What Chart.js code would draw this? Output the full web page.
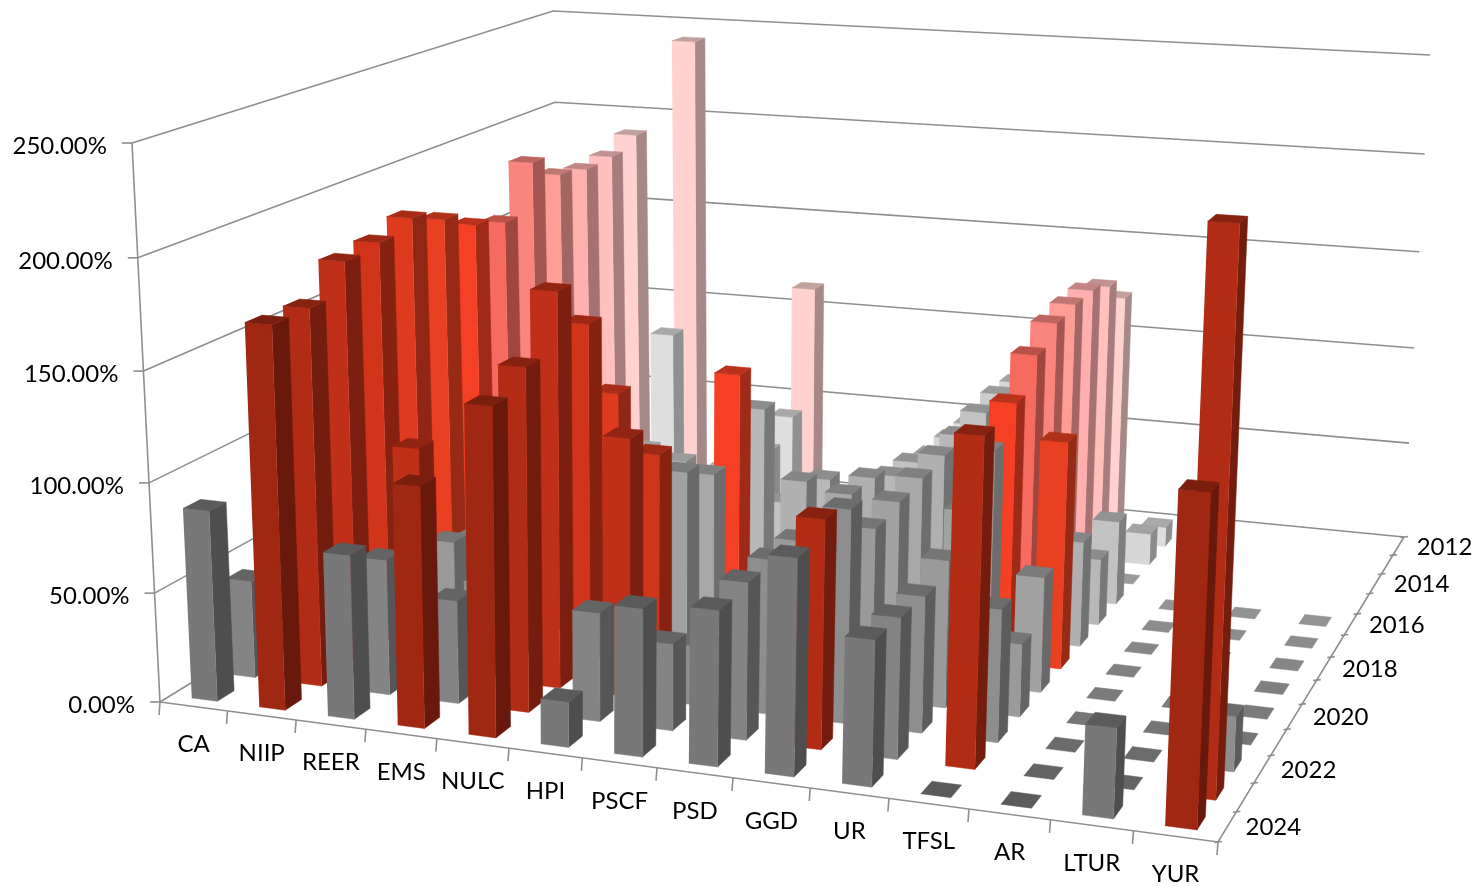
<!DOCTYPE html>
<html lang="en">
<head>
<meta charset="UTF-8">
<title>Scoreboard indicators 2012-2024</title>
<script src="https://cdn.jsdelivr.net/npm/chart.js"></script>
<style>
  body { margin: 0; background: #fff; }
  canvas { display: block; }
</style>
</head>
<body>
<canvas id="chart" width="1472" height="886"></canvas>
<script>
const categories = ['CA', 'NIIP', 'REER', 'EMS', 'NULC', 'HPI', 'PSCF', 'PSD', 'GGD', 'UR', 'TFSL', 'AR', 'LTUR', 'YUR'];
const years = [2012, 2013, 2014, 2015, 2016, 2017, 2018, 2019, 2020, 2021, 2022, 2023, 2024];
const yearTicks = ['2012', '2014', '2016', '2018', '2020', '2022', '2024'];
const valueTicks = [0, 50, 100, 150, 200, 250];

// one array per year, same order as categories, null = no bar at all
const v2012 = [55, 189, 241, 40, 112, 8, 25, 50, 80, 120, null, null, null, null];
const v2013 = [55, 183, 89, 20, 50, 10, 25, 55, 85, 133, 10, null, null, null];
const v2014 = [50, 182, 35, 25, 40, 15, 30, 56, 88, 138, 16, null, null, null];
const v2015 = [50, 185, 45, 40, 45, 30, 30, 56, 90, 138, 0, null, null, null];
const v2016 = [50, 197, 45, 40, 45, 34, 40, 61, 89, 136, 41, 0, 0, 0];
const v2017 = [50, 173, 45, 40, 50, 90, 58, 63, 86, 128, 32, 0, 0, 0];
const v2018 = [55, 178, 45, 45, 60, 115, 66, 71, 85, 113, 50, 0, 0, 0];
const v2019 = [55, 187, 45, 45, 80, 75, 10, 72, 83, 99, 106, 0, 0, 0];
const v2020 = [60, 194, 45, 45, 119, 85, 10, 66, 81, 80, 53, 0, 0, 0];
const v2021 = [60, 189, 51, 45, 159, 102, 15, 69, 78, 67, 33, 0, 0, 0];
const v2022 = [60, 187, 104, 45, 181, 118, 27, 70, 96, 61, 59, 0, 0, 24];
const v2023 = [45, 173, 62, 47, 155, 49, 39, 70, 101, 62, 143, 0, 0, 238];
const v2024 = [87, 173, 74, 108, 146, 20, 65, 68, 94, 63, 0, 0, 38, 138];
const series = [v2012, v2013, v2014, v2015, v2016, v2017, v2018, v2019, v2020, v2021, v2022, v2023, v2024];

// bar colours by year, red above the 100% threshold
const reds = ['#ffd2cf', '#ffc0be', '#ffb0ae', '#fc9d96', '#fa857e', '#f56b60', '#f54025', '#e84020', '#dd3a1e', '#d0351a', '#c03018', '#b22c15', '#a02712'];
const grays = ['#e2e2e2', '#dedede', '#d6d6d6', '#cccccc', '#c2c2c2', '#b8b8b8', '#b0b0b0', '#a8a8a8', '#a2a2a2', '#9a9a9a', '#8e8e8e', '#848484', '#787878'];
const threshold = 100;
const barShare = 0.38;
const depthShare = 0.44;
const maxValue = 250;
const gridColor = '#8e8e8e';

// the box of the 3D chart as seen on screen: front-left, front-right, back-right, back-left
const floorBox = [[160, 702], [1218, 842], [1404, 537], [563, 455]];
const roofBox = [[132, 143], [1244, 215], [1430, 55], [553, 11]];
const heightBend = 0.034;

// unit square to quad, Heckbert's formula
function homography(q) {
  const [[x0, y0], [x1, y1], [x2, y2], [x3, y3]] = q;
  const dx1 = x1 - x2, dx2 = x3 - x2, sx = x0 - x1 + x2 - x3;
  const dy1 = y1 - y2, dy2 = y3 - y2, sy = y0 - y1 + y2 - y3;
  const den = dx1 * dy2 - dx2 * dy1;
  const g = (sx * dy2 - dx2 * sy) / den;
  const h = (dx1 * sy - sx * dy1) / den;
  const a = x1 - x0 + g * x1, b = x3 - x0 + h * x3;
  const d = y1 - y0 + g * y1, e = y3 - y0 + h * y3;
  return (u, v) => {
    const k = g * u + h * v + 1;
    return [(a * u + b * v + x0) / k, (d * u + e * v + y0) / k];
  };
}
const floorMap = homography(floorBox);
const roofMap = homography(roofBox);

// category position, row position (0 = front), value
function project(c, r, value) {
  const u = c / categories.length, v = r / years.length, s = value / maxValue;
  const t = s / (1 + heightBend * (1 - s));
  const p = floorMap(u, v), q = roofMap(u, v);
  return { x: p[0] + (q[0] - p[0]) * t, y: p[1] + (q[1] - p[1]) * t };
}

function shade(hex, k) {
  const n = parseInt(hex.slice(1), 16);
  const ch = s => Math.round(((n >> s) & 255) * k);
  return `rgb(${ch(16)},${ch(8)},${ch(0)})`;
}

// painted in this order, reversed at the end because Chart.js draws the first dataset last
const painted = [];

function addLine(points, width) {
  painted.push({ data: points, showLine: true, fill: false, borderColor: gridColor, borderWidth: width || 1.6, pointRadius: 0, tension: 0 });
}
function addFace(points, color) {
  painted.push({ data: points, showLine: true, fill: 'shape', backgroundColor: color, borderColor: color, borderWidth: 0.5, pointRadius: 0, tension: 0 });
}

const nc = categories.length, nr = years.length;

valueTicks.forEach(t => {
  addLine([project(0, 0, t), project(0, nr, t), project(nc, nr, t)]);
  const p = project(0, 0, t);
  addLine([p, { x: p.x - 10, y: p.y }]);
});
addLine([project(0, 0, 0), project(0, 0, maxValue)]);
addLine([project(0, 0, 0), project(nc, 0, 0), project(nc, nr, 0)]);
for (let c = 0; c <= nc; c++) {
  const p = project(c, 0, 0);
  addLine([p, { x: p.x - 1, y: p.y + 13 }]);
}
for (let r = 0; r <= nr; r++) {
  const p = project(nc, r, 0);
  addLine([{ x: p.x - 3.5, y: p.y + 0.5 }, { x: p.x + 4, y: p.y - 0.5 }]);
}

// back row first, left to right inside a row
series.forEach((values, i) => {
  const r = nr - 1 - i;
  values.forEach((val, c) => {
    if (val === null) return;
    const base = val > threshold ? reds[i] : grays[i];
    const c0 = c + 0.5 - barShare / 2, c1 = c + 0.5 + barShare / 2;
    const r0 = r + 0.5 - depthShare / 2, r1 = r + 0.5 + depthShare / 2;
    if (val > 0) {
      addFace([project(c1, r0, 0), project(c1, r1, 0), project(c1, r1, val), project(c1, r0, val)], shade(base, 0.65));
      addFace([project(c0, r0, 0), project(c1, r0, 0), project(c1, r0, val), project(c0, r0, val)], base);
    }
    addFace([project(c0, r0, val), project(c1, r0, val), project(c1, r1, val), project(c0, r1, val)], shade(base, 0.76));
  });
});

const textPlugin = {
  id: 'boxLabels',
  afterDraw(chart) {
    const { ctx, scales: { x, y } } = chart;
    const put = (text, p, dx, dy, align) => {
      ctx.textAlign = align;
      ctx.fillText(text, x.getPixelForValue(p.x) + dx, y.getPixelForValue(p.y) + dy);
    };
    ctx.save();
    ctx.fillStyle = '#000';
    ctx.textBaseline = 'middle';
    ctx.font = '24px Lato, "Open Sans", sans-serif';
    valueTicks.forEach(t => put(t.toFixed(2) + '%', project(0, 0, t), -25, 3, 'right'));
    categories.forEach((name, c) => put(name, project(c + 0.5, 0, 0), 0, 38, 'center'));
    yearTicks.forEach(label => {
      const r = nr - 1 - years.indexOf(Number(label));
      put(label, project(nc, r + 0.5, 0), 46, 1, 'center');
    });
    ctx.restore();
  }
};

new Chart(document.getElementById('chart'), {
  type: 'scatter',
  data: { datasets: painted.reverse() },
  options: {
    responsive: false,
    animation: false,
    events: [],
    layout: { padding: 0 },
    scales: {
      x: { type: 'linear', display: false, min: 0, max: 1472 },
      y: { type: 'linear', display: false, min: 0, max: 886, reverse: true }
    },
    plugins: { legend: { display: false }, tooltip: { enabled: false }, title: { display: false } }
  },
  plugins: [textPlugin]
});
</script>
</body>
</html>
